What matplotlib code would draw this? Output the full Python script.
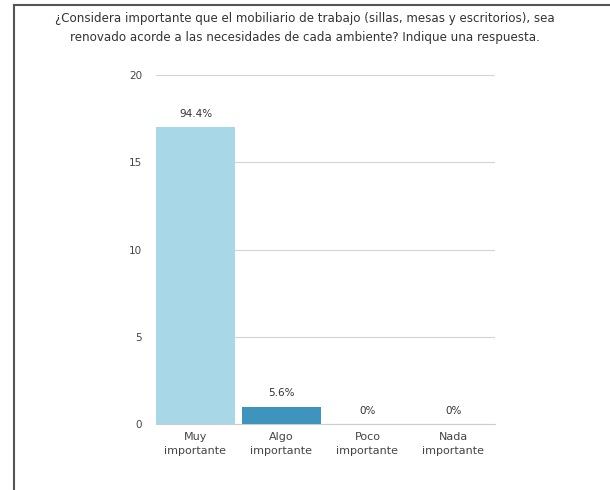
import matplotlib.pyplot as plt
from matplotlib.lines import Line2D

categories = ["Muy\nimportante", "Algo\nimportante", "Poco\nimportante", "Nada\nimportante"]
counts = [17, 1, 0, 0]
pctLabels = ["94.4%", "5.6%", "0%", "0%"]
barColors = ["#a8d8e7", "#3f94be", "#a8d8e7", "#a8d8e7"]
yTicks = [0, 5, 10, 15, 20]

plt.rcParams["font.family"] = ["DejaVu Sans"]

fig = plt.figure(figsize=(6.1, 4.9), dpi=100)
ax = fig.add_axes([0.2557, 0.1347, 0.5558, 0.7122])

x = list(range(len(categories)))
ax.bar(x, counts, width=0.92, color=barColors, zorder=3)

for xi, c, lab in zip(x, counts, pctLabels):
    ax.annotate(lab, (xi, c), xytext=(0, 6), textcoords="offset points",
                ha="center", va="bottom", fontsize=7.5, color="#333333")

ax.set_xlim(-0.459, 3.483)
ax.set_ylim(0, 20)
ax.set_yticks(yTicks)
ax.set_xticks(x)
ax.set_xticklabels(categories, fontsize=8, color="#444444", linespacing=1.45)
ax.tick_params(axis="y", labelsize=7.5, colors="#444444", length=0, pad=10)
ax.tick_params(axis="x", length=0, pad=6)
ax.grid(axis="y", color="#d4d4d4", linewidth=0.8, zorder=0)
for s in ["top", "right", "left"]:
    ax.spines[s].set_visible(False)
ax.spines["bottom"].set_color("#cccccc")

fig.text(0.5, 0.963, "¿Considera importante que el mobiliario de trabajo (sillas, mesas y escritorios), sea",
         ha="center", va="center", fontsize=8.6, color="#333333")
fig.text(0.5, 0.924, "renovado acorde a las necesidades de cada ambiente? Indique una respuesta.",
         ha="center", va="center", fontsize=8.6, color="#333333")

fig.add_artist(Line2D([0.023, 1.0], [0.9898, 0.9898], color="#555555", linewidth=1.5))
fig.add_artist(Line2D([0.023, 0.023], [0.0, 0.9898], color="#555555", linewidth=1.5))

fig.savefig("out.png", dpi=100)
